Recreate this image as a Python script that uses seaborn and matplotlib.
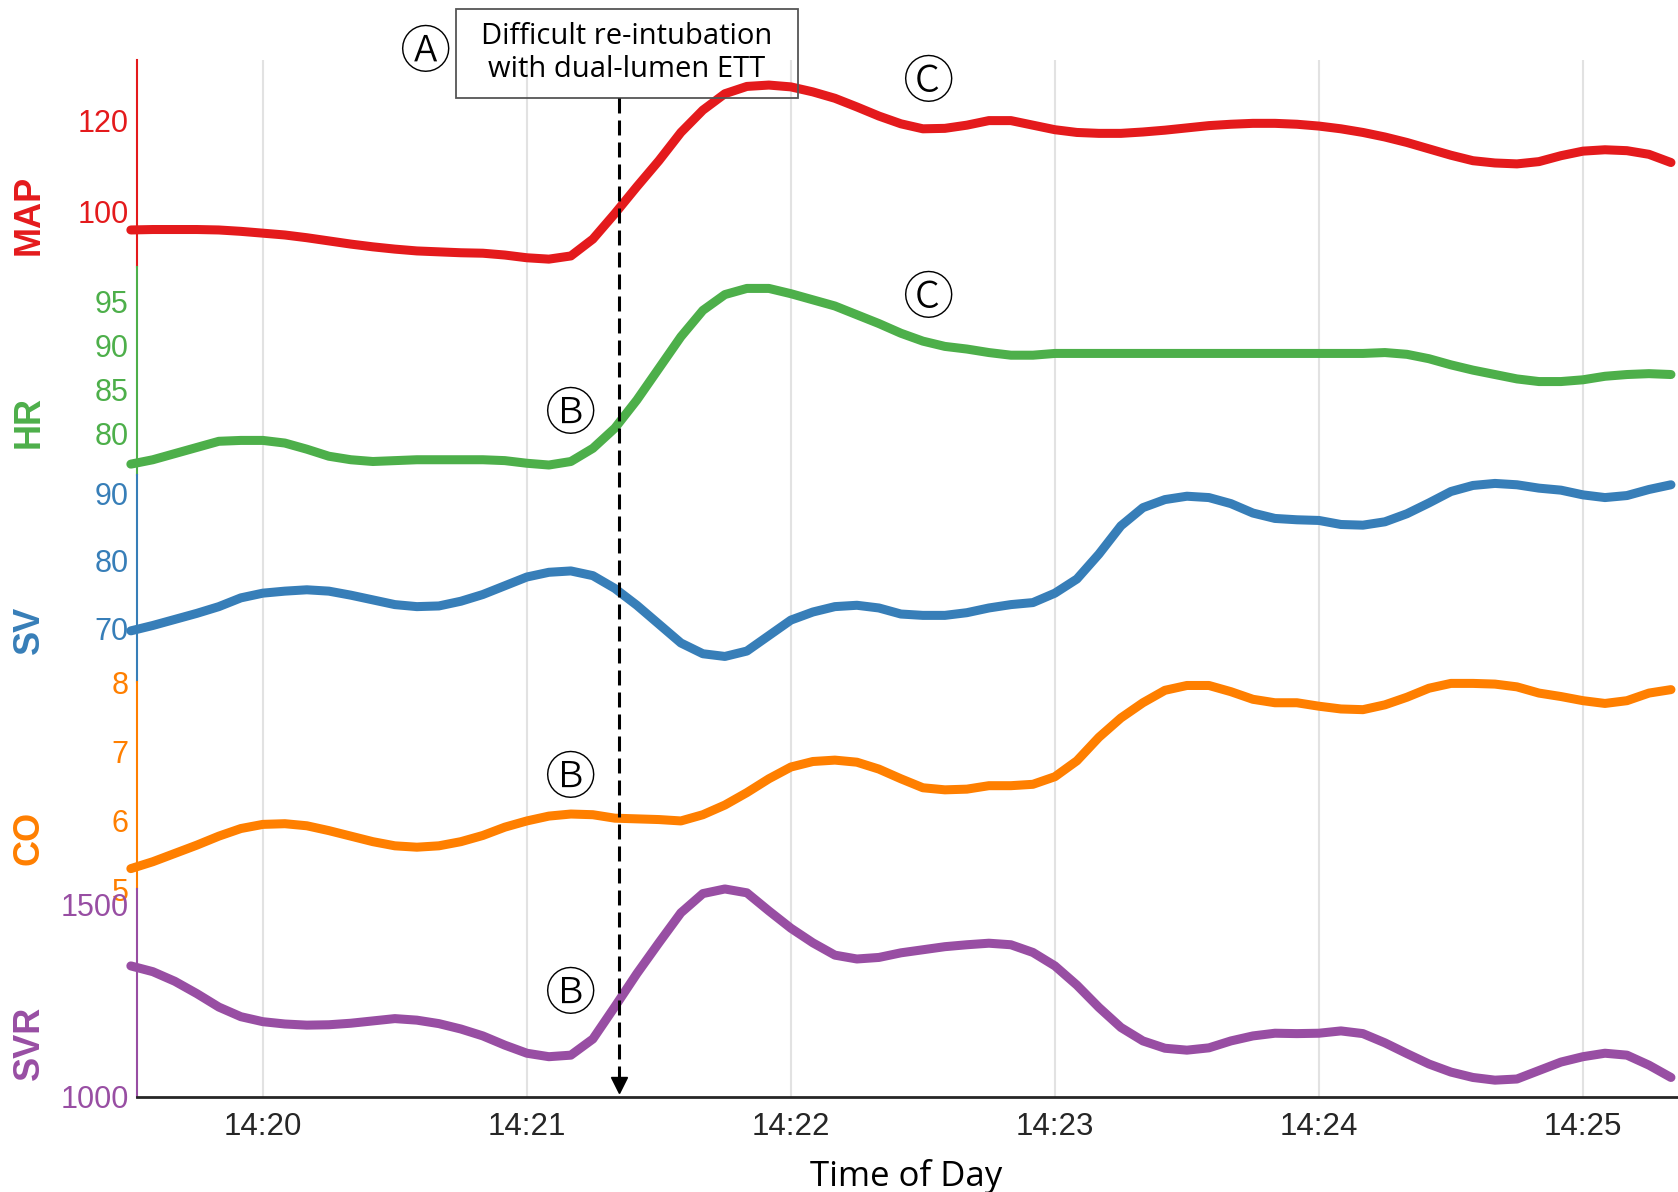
import pandas as pd
import matplotlib.pyplot as plt
import matplotlib.dates as mdates
from matplotlib.lines import Line2D
from matplotlib.patches import Rectangle
from matplotlib.transforms import blended_transform_factory
import seaborn as sns


# ---------------------------------------------------------------- #
# data (5 s samples, offsets from 14:20:00)
# ---------------------------------------------------------------- #

START = "2021-01-01 14:20:00"
SECONDS = list(range(-30, 321, 5))

MAP = [96.0, 96.1, 96.1, 96.1, 96.0, 95.7, 95.3, 94.9, 94.3, 93.6,
       92.9, 92.3, 91.8, 91.4, 91.2, 91.0, 90.9, 90.5, 89.9, 89.6,
       90.3, 94.0, 99.6, 105.5, 111.2, 117.4, 122.3, 125.9, 127.5, 127.8,
       127.4, 126.3, 124.9, 123.0, 121.0, 119.3, 118.2, 118.3, 119.0, 120.0,
       120.0, 119.0, 118.0, 117.4, 117.2, 117.2, 117.5, 117.9, 118.4, 118.9,
       119.2, 119.4, 119.4, 119.2, 118.8, 118.2, 117.4, 116.4, 115.2, 113.8,
       112.4, 111.2, 110.7, 110.5, 111.0, 112.3, 113.3, 113.6, 113.4, 112.6,
       110.8]
HR = [76.5, 77.0, 77.7, 78.4, 79.1, 79.2, 79.2, 78.9, 78.2, 77.4,
      77.0, 76.8, 76.9, 77.0, 77.0, 77.0, 77.0, 76.9, 76.6, 76.4,
      76.8, 78.3, 80.6, 83.8, 87.4, 91.0, 94.0, 95.8, 96.5, 96.5,
      95.9, 95.2, 94.5, 93.5, 92.5, 91.4, 90.5, 89.9, 89.6, 89.2,
      88.9, 88.9, 89.1, 89.1, 89.1, 89.1, 89.1, 89.1, 89.1, 89.1,
      89.1, 89.1, 89.1, 89.1, 89.1, 89.1, 89.1, 89.2, 89.0, 88.5,
      87.8, 87.2, 86.7, 86.2, 85.9, 85.9, 86.1, 86.5, 86.7, 86.8,
      86.7]
SV = [69.6, 70.4, 71.3, 72.2, 73.2, 74.5, 75.2, 75.5, 75.7, 75.5,
      74.9, 74.2, 73.5, 73.2, 73.3, 74.0, 75.0, 76.3, 77.6, 78.3,
      78.5, 77.8, 75.9, 73.4, 70.6, 67.8, 66.2, 65.8, 66.6, 68.9,
      71.2, 72.4, 73.2, 73.4, 73.0, 72.1, 71.9, 71.9, 72.3, 73.0,
      73.5, 73.8, 75.2, 77.3, 81.0, 85.2, 87.9, 89.1, 89.6, 89.4,
      88.5, 87.1, 86.3, 86.1, 86.0, 85.4, 85.3, 85.8, 87.0, 88.6,
      90.3, 91.2, 91.5, 91.3, 90.8, 90.5, 89.8, 89.4, 89.7, 90.6,
      91.3]
CO = [5.30, 5.40, 5.52, 5.64, 5.77, 5.88, 5.94, 5.95, 5.92, 5.85,
      5.77, 5.69, 5.63, 5.61, 5.63, 5.69, 5.78, 5.90, 5.99, 6.06,
      6.09, 6.08, 6.03, 6.02, 6.01, 5.99, 6.08, 6.22, 6.40, 6.60,
      6.77, 6.85, 6.87, 6.84, 6.74, 6.60, 6.47, 6.44, 6.45, 6.50,
      6.50, 6.52, 6.63, 6.86, 7.20, 7.48, 7.70, 7.88, 7.95, 7.95,
      7.86, 7.75, 7.70, 7.70, 7.65, 7.61, 7.60, 7.67, 7.78, 7.91,
      7.98, 7.98, 7.97, 7.93, 7.84, 7.79, 7.73, 7.69, 7.73, 7.84,
      7.89]
SVR = [1340, 1325, 1300, 1268, 1233, 1208, 1195, 1189, 1186, 1187,
       1191, 1197, 1203, 1199, 1190, 1176, 1158, 1134, 1113, 1104,
       1108, 1150, 1234, 1320, 1400, 1478, 1528, 1540, 1530, 1483,
       1438, 1400, 1368, 1358, 1362, 1374, 1382, 1390, 1395, 1399,
       1395, 1375, 1340, 1290, 1232, 1180, 1145, 1126, 1121, 1127,
       1145, 1158, 1165, 1164, 1165, 1171, 1164, 1140, 1112, 1085,
       1064, 1050, 1043, 1046, 1068, 1090, 1104, 1113, 1108, 1082,
       1050]

NAMES = ["MAP", "HR", "SV", "CO", "SVR"]
YTICKS = [[100, 120], [80, 85, 90, 95], [70, 80, 90], [5, 6, 7, 8], [1000, 1500]]
YLIMS = [(87.8, 133.3), (75.3, 98.9), (62.0, 92.8), (5.0, 8.0), (1000, 1539)]

EVENT_SECONDS = 81
EVENT_TEXT = "Difficult re-intubation\nwith dual-lumen ETT"
MARKS = ["\u24b6", "\u24b8", "\u24b8", "\u24b7", "\u24b7", "\u24b7"]

W, H = 1678, 1192


def fx(px):
    return px / W


def fy(px):
    return 1 - px / H


def main() -> None:
    sns.set_theme(style="white")
    plt.rcParams["font.family"] = ["Liberation Sans", "DejaVu Sans"]

    pal = sns.color_palette("Set1")
    colors = [pal[0], pal[2], pal[1], pal[4], pal[3]]

    t0 = pd.Timestamp(START)
    df = pd.DataFrame({"time": t0 + pd.to_timedelta(SECONDS, unit="s"),
                       "MAP": MAP, "HR": HR, "SV": SV, "CO": CO, "SVR": SVR})

    fig, axes = plt.subplots(5, 1, sharex=True, figsize=(W / 100, H / 100), dpi=100)
    fig.subplots_adjust(left=fx(137), right=1.0, top=fy(60), bottom=fy(1096.7), hspace=0)

    label_y = [215, 422, 630, 838, 1043]

    for i, ax in enumerate(axes):
        name, color = NAMES[i], colors[i]
        sns.lineplot(data=df, x="time", y=name, ax=ax, color=color, lw=6.5,
                     clip_on=False, zorder=3)
        ax.set_ylim(*YLIMS[i])
        ax.set_yticks(YTICKS[i])
        ax.tick_params(axis="y", direction="in", length=11, width=1.3,
                       colors=color, labelsize=22, pad=6)
        ax.set_xlabel("")
        ax.set_ylabel("")
        ax.grid(axis="x", color="#e2e2e2", lw=1.5)
        ax.grid(axis="y", visible=False)
        for s in ("top", "right", "bottom"):
            ax.spines[s].set_visible(False)
        ax.spines["left"].set_color(color)
        ax.spines["left"].set_linewidth(1.5)
        if i < 4:
            ax.tick_params(axis="x", length=0)
        fig.text(fx(29), fy(label_y[i]), name, rotation=90, ha="center", va="center",
                 color=color, fontsize=26, fontweight="bold")

    bottom = axes[-1]
    bottom.spines["bottom"].set_visible(True)
    bottom.spines["bottom"].set_color("#262626")
    bottom.spines["bottom"].set_linewidth(2)
    bottom.xaxis.set_major_locator(mdates.MinuteLocator())
    bottom.xaxis.set_major_formatter(mdates.DateFormatter("%H:%M"))
    bottom.tick_params(axis="x", direction="in", length=12, width=1.5,
                       colors="#262626", labelsize=22.5, pad=11)
    bottom.set_xlim(t0 + pd.Timedelta(seconds=-28.6), t0 + pd.Timedelta(seconds=321.6))
    fig.text(fx(906), fy(1176), "Time of Day", ha="center", va="center",
             fontsize=25, family=["Open Sans", "DejaVu Sans"], color="black")

    # event arrow, spanning all panels
    tx = mdates.date2num(t0 + pd.Timedelta(seconds=EVENT_SECONDS))
    trans = blended_transform_factory(bottom.transData, fig.transFigure)
    fig.add_artist(Line2D([tx, tx], [fy(98), fy(1080)], transform=trans, color="black",
                          lw=2.2, ls=(0, (4.9, 2.3)), zorder=5))
    fig.add_artist(Line2D([tx], [fy(1085)], transform=trans, color="black", marker="v",
                          ms=11, zorder=5))

    fig.add_artist(Rectangle((fx(456), fy(98)), fx(342), 89 / H, transform=fig.transFigure,
                             facecolor="none", edgecolor="#555555", lw=1.3, zorder=4))
    fig.text(fx(627), fy(53), EVENT_TEXT, ha="center", va="center", fontsize=21,
             linespacing=1.15, family=["Open Sans", "DejaVu Sans"], color="black")

    spots = [(425, 54), (928, 83), (928, 299), (570, 415), (570, 779), (570, 996)]
    for ch, (x, y) in zip(MARKS, spots):
        fig.text(fx(x), fy(y), ch, ha="center", va="center", fontsize=37,
                 fontweight="light", family=["Noto Sans CJK JP", "DejaVu Sans"],
                 color="black")

    fig.savefig("out.png", dpi=100)
    plt.close(fig)


if __name__ == "__main__":
    main()
